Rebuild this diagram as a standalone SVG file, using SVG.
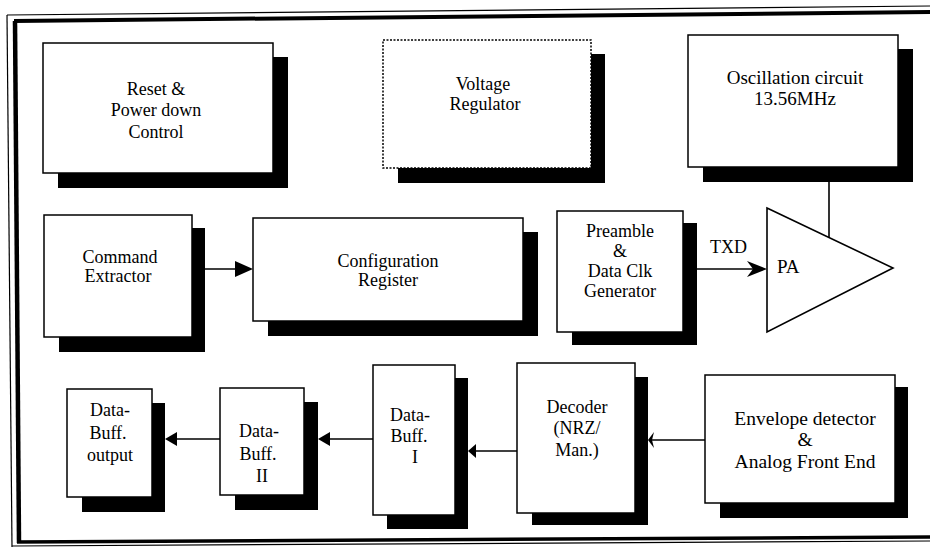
<svg xmlns="http://www.w3.org/2000/svg" width="930" height="547" viewBox="0 0 930 547">
<defs>
<style>
.sh{fill:#000}
.bx{fill:#fff;stroke:#000;stroke-width:1.5}
.dot{fill:#fff;stroke:#000;stroke-width:1.5;stroke-dasharray:2 1.5}
.t{font-family:"Liberation Serif","Times New Roman",serif;font-size:18px;fill:#000;text-anchor:middle}
.ln{stroke:#000;stroke-width:1.6;fill:none}
.hd{fill:#000}
</style>
</defs>
<rect width="930" height="547" fill="#fff"/>
<g id="frame">
<line x1="7" y1="15" x2="930" y2="6" stroke="#000" stroke-width="1.2"/>
<line x1="14" y1="21" x2="930" y2="12" stroke="#000" stroke-width="4"/>
<line x1="7" y1="15" x2="12" y2="547" stroke="#000" stroke-width="1.2"/>
<line x1="15" y1="21" x2="19" y2="543" stroke="#000" stroke-width="4.5"/>
<line x1="17" y1="542" x2="930" y2="537" stroke="#000" stroke-width="3.5"/>
<line x1="12" y1="546" x2="930" y2="541" stroke="#000" stroke-width="1.2"/>
</g>
<g id="reset">
<rect class="sh" x="58" y="57" width="230" height="131"/>
<rect class="bx" x="43" y="43" width="230" height="130"/>
<text class="t" x="156" y="95">Reset &amp;</text>
<text class="t" x="156" y="116">Power down</text>
<text class="t" x="156" y="138">Control</text>
</g>
<g id="voltage">
<rect class="sh" x="398" y="54" width="207" height="129"/>
<rect class="dot" x="383" y="40" width="208" height="128"/>
<text class="t" x="483" y="90">Voltage</text>
<text class="t" x="485" y="110">Regulator</text>
</g>
<g id="osc">
<rect class="sh" x="703" y="49" width="210" height="133"/>
<rect class="bx" x="688" y="35" width="210" height="132"/>
<text class="t" x="795" y="84" style="font-size:19px">Oscillation circuit</text>
<text class="t" x="795" y="105" style="font-size:19px">13.56MHz</text>
</g>
<g id="command">
<rect class="sh" x="59" y="228" width="146" height="124"/>
<rect class="bx" x="44" y="215" width="148" height="122"/>
<text class="t" x="120" y="263">Command</text>
<text class="t" x="118" y="282">Extractor</text>
</g>
<g id="config">
<rect class="sh" x="268" y="232" width="270" height="104"/>
<rect class="bx" x="253" y="218" width="270" height="103"/>
<text class="t" x="388" y="267">Configuration</text>
<text class="t" x="388" y="286">Register</text>
</g>
<g id="preamble">
<rect class="sh" x="572" y="223" width="125" height="122"/>
<rect class="bx" x="557" y="211" width="126" height="121"/>
<text class="t" x="620" y="237">Preamble</text>
<text class="t" x="620" y="257">&amp;</text>
<text class="t" x="620" y="277">Data Clk</text>
<text class="t" x="620" y="297">Generator</text>
</g>
<g id="pa">
<polygon points="767,208 893,268 767,332" fill="#fff" stroke="#000" stroke-width="1.6"/>
<text x="777" y="273" style="font-family:'Liberation Serif','Times New Roman',serif;font-size:19px">PA</text>
</g>
<g id="dbout">
<rect class="sh" x="82" y="403" width="83" height="109"/>
<rect class="bx" x="67" y="389" width="85" height="108"/>
<text class="t" x="110" y="416">Data-</text>
<text class="t" x="108" y="439">Buff.</text>
<text class="t" x="110" y="461">output</text>
</g>
<g id="db2">
<rect class="sh" x="235" y="402" width="83" height="108"/>
<rect class="bx" x="220" y="388" width="84" height="107"/>
<text class="t" x="259" y="437">Data-</text>
<text class="t" x="258" y="460">Buff.</text>
<text class="t" x="262" y="482">II</text>
</g>
<g id="db1">
<rect class="sh" x="387" y="378" width="81" height="151"/>
<rect class="bx" x="373" y="365" width="82" height="150"/>
<text class="t" x="410" y="421">Data-</text>
<text class="t" x="409" y="442">Buff.</text>
<text class="t" x="415" y="463">I</text>
</g>
<g id="decoder">
<rect class="sh" x="532" y="377" width="116" height="148"/>
<rect class="bx" x="517" y="363" width="118" height="150"/>
<text class="t" x="577" y="413">Decoder</text>
<text class="t" x="577" y="434">(NRZ/</text>
<text class="t" x="577" y="456">Man.)</text>
</g>
<g id="envelope">
<rect class="sh" x="720" y="387" width="188" height="131"/>
<rect class="bx" x="705" y="375" width="190" height="128"/>
<text class="t" x="805" y="425" style="font-size:19.5px">Envelope detector</text>
<text class="t" x="805" y="446" style="font-size:19.5px">&amp;</text>
<text class="t" x="805" y="468" style="font-size:19.5px">Analog Front End</text>
</g>
<g id="connectors">
<line class="ln" x1="205" y1="269" x2="240" y2="269"/>
<polygon class="hd" points="253,269 235,261 235,277"/>
<line class="ln" x1="697" y1="269" x2="760" y2="269"/>
<polygon class="hd" points="767,269 747,261 753,269 747,277"/>
<text x="710" y="253" style="font-family:'Liberation Serif','Times New Roman',serif;font-size:18px">TXD</text>
<line class="ln" x1="829" y1="182" x2="829" y2="238"/>
<line class="ln" x1="705" y1="440" x2="652" y2="440"/>
<polygon class="hd" points="648,440 654,432 652,440 654,448"/>
<line class="ln" x1="517" y1="451" x2="472" y2="451"/>
<polygon class="hd" points="468,451 476,444 476,458"/>
<line class="ln" x1="373" y1="439" x2="326" y2="439"/>
<polygon class="hd" points="318,439 330,432 330,446"/>
<line class="ln" x1="220" y1="439" x2="172" y2="439"/>
<polygon class="hd" points="165,439 177,432 177,446"/>
</g>
</svg>
